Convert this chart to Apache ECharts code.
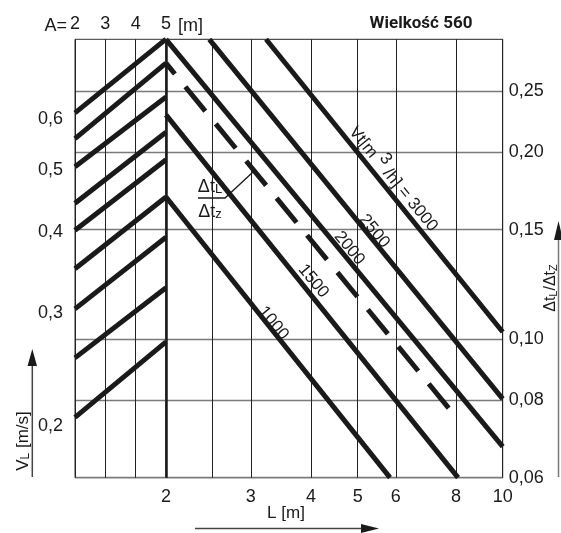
<!DOCTYPE html>
<html><head><meta charset="utf-8">
<script src="https://cdn.jsdelivr.net/npm/echarts@6/dist/echarts.min.js"></script>
<style>html,body{margin:0;padding:0;background:#fff}#c{width:561px;height:533px}</style>
</head><body><div id="c"></div>
<script>
// ---- axis ticks ----
const A_ticks = [2, 3, 4, 5];
const L_labels = [2, 3, 4, 5, 6, 8, 10];
const L_grid = [2, 2.5, 3, 4, 5, 6, 8, 10];
const dt_ticks = [0.06, 0.08, 0.10, 0.15, 0.20, 0.25];
const VL_ticks = [0.2, 0.3, 0.4, 0.5, 0.6];

// ---- left part: V_L against A (nine lines, from A=2 to A=5) ----
const leftA = [2, 5];
const leftStartV = [0.614, 0.560, 0.506, 0.444, 0.403, 0.351, 0.304, 0.255, 0.206];
const leftEndV   = [0.800, 0.734, 0.650, 0.573, 0.519, 0.454, 0.393, 0.328, 0.270];

// ---- right part: Δt_L/Δt_z against L for each flow Vt ----
const flowNames   = ['1000', '1500', '2000', '2500', '3000'];
const flowStartL  = [2, 2, 2, 2.46, 3.226];
const flowStartDt = [0.1693, 0.2293, 0.3032, 0.3032, 0.3032];
const flowEndL    = [5.835, 8.078, 10, 10, 10];
const flowEndDt   = [0.06, 0.06, 0.0673, 0.0803, 0.1028];
const flowLabelL  = [3.384, 4.096, 4.866, 5.483, 6.003];
const flowLabelDt = [0.1071, 0.1251, 0.1413, 0.1504, 0.1823];

// dashed line
const dashedL  = [2, 7.775];
const dashedDt = [0.2776, 0.0771];

const FONT = '"Liberation Sans", Arial, sans-serif';
const INK = '#1a1a1a';

const chart = echarts.init(document.getElementById('c'), null, {renderer: 'canvas'});

const series = [];
leftStartV.forEach((v, i) => {
  series.push({
    type: 'line', xAxisIndex: 0, yAxisIndex: 0, symbol: 'none', clip: false, silent: true,
    lineStyle: {color: INK, width: 5, cap: 'butt'},
    data: [[leftA[0], v], [leftA[1], leftEndV[i]]]
  });
});
flowNames.forEach((n, i) => {
  series.push({
    type: 'line', name: n, xAxisIndex: 1, yAxisIndex: 2, symbol: 'none', clip: false, silent: true,
    lineStyle: {color: INK, width: 5, cap: 'butt'},
    data: [[flowStartL[i], flowStartDt[i]], [flowEndL[i], flowEndDt[i]]]
  });
});
series.push({
  type: 'line', xAxisIndex: 1, yAxisIndex: 2, symbol: 'none', clip: false, silent: true,
  lineStyle: {color: INK, width: 5, cap: 'butt', type: [31.5, 16.5], dashOffset: 17.5},
  data: [[dashedL[0], dashedDt[0]], [dashedL[1], dashedDt[1]]],
  markLine: {
    silent: true, symbol: 'none', animation: false,
    label: {show: false},
    lineStyle: {color: INK, width: 2.5, type: 'solid'},
    data: [{xAxis: 2}]
  }
});

const dtMin = 0.05999, dtMax = 0.3032;
const axisLbl = {fontFamily: FONT, fontSize: 18, color: INK};

chart.setOption({
  animation: false,
  backgroundColor: '#fff',
  grid: [
    {left: 75, top: 39.3, width: 91, height: 438.4, show: true, borderColor: '#333', borderWidth: 1},
    {left: 166, top: 39.3, width: 336.7, height: 438.4, show: true, borderColor: '#222', borderWidth: 1}
  ],
  xAxis: [
    {type: 'value', gridIndex: 0, position: 'top', min: 2, max: 5,
     axisLine: {show: false}, axisTick: {show: false, customValues: A_ticks},
     axisLabel: Object.assign({customValues: A_ticks, margin: 6}, axisLbl),
     splitLine: {show: true, lineStyle: {color: '#222', width: 1}}},
    {type: 'log', gridIndex: 1, position: 'bottom', min: 1.9999, max: 10.0001, logBase: 10,
     axisLine: {show: false}, axisTick: {show: false, customValues: L_grid},
     axisLabel: Object.assign({customValues: L_labels, margin: 10, formatter: v => String(Math.round(v))}, axisLbl),
     splitLine: {show: true, lineStyle: {color: '#222', width: 1}}}
  ],
  yAxis: [
    {type: 'log', gridIndex: 0, position: 'left', min: 0.1659, max: 0.7996,
     axisLine: {show: false}, axisTick: {show: false},
     axisLabel: Object.assign({customValues: VL_ticks, margin: 12, formatter: v => v.toFixed(1).replace('.', ',')}, axisLbl),
     splitLine: {show: false}},
    {type: 'log', gridIndex: 0, position: 'right', min: dtMin, max: dtMax,
     axisLine: {show: false}, axisTick: {show: false, customValues: dt_ticks},
     axisLabel: {show: false},
     splitLine: {show: true, lineStyle: {color: '#7a7a7a', width: 1.3}}},
    {type: 'log', gridIndex: 1, position: 'right', min: dtMin, max: dtMax,
     axisLine: {show: false}, axisTick: {show: false, customValues: dt_ticks},
     axisLabel: Object.assign({customValues: dt_ticks, margin: 6, formatter: v => v.toFixed(2).replace('.', ',')}, axisLbl),
     splitLine: {show: true, lineStyle: {color: '#7a7a7a', width: 1.3}}}
  ],
  series: series
});

// ---- annotations ----
const ang = -0.885;
const g = [];
flowNames.forEach((n, i) => {
  const p = chart.convertToPixel({xAxisIndex: 1, yAxisIndex: 2}, [flowLabelL[i], flowLabelDt[i]]);
  const txt = i === 4 ? '{n|Vt[m }{s|3}{n| /h] = 3000}' : '{n|' + n + '}';
  g.push({type: 'text', x: p[0], y: p[1], rotation: ang, silent: true,
    style: {text: txt, align: 'center', verticalAlign: 'middle', fill: INK, font: '17px ' + FONT,
      rich: {n: {fontSize: 17, fontFamily: FONT, fill: INK, lineHeight: 24, verticalAlign: 'bottom'},
             s: {fontSize: 17, fontFamily: FONT, fill: INK, lineHeight: 24, verticalAlign: 'top', padding: [0, 0, 10, 0]}}}});
});
// title
g.push({type: 'text', x: 421, y: 24, silent: true,
  style: {text: 'Wielkość 560', align: 'center', verticalAlign: 'middle', fill: INK, font: 'bold 17px Roboto, ' + FONT}});
// A= and [m]
g.push({type: 'text', x: 67, y: 26, silent: true,
  style: {text: 'A=', align: 'right', verticalAlign: 'middle', fill: INK, font: '18px ' + FONT}});
g.push({type: 'text', x: 178, y: 26, silent: true,
  style: {text: '[m]', align: 'left', verticalAlign: 'middle', fill: INK, font: '18px ' + FONT}});
// fraction label with leader
g.push({type: 'text', x: 210, y: 186, silent: true,
  style: {text: '{a|Δt}{s|L}', align: 'center', verticalAlign: 'middle',
    rich: {a: {fontSize: 18, fontFamily: FONT, fill: INK, lineHeight: 20, verticalAlign: 'bottom'},
           s: {fontSize: 13, fontFamily: FONT, fill: INK, lineHeight: 20, verticalAlign: 'bottom'}}}});
g.push({type: 'text', x: 210, y: 211, silent: true,
  style: {text: '{a|Δt}{s|z}', align: 'center', verticalAlign: 'middle',
    rich: {a: {fontSize: 18, fontFamily: FONT, fill: INK, lineHeight: 20, verticalAlign: 'bottom'},
           s: {fontSize: 13, fontFamily: FONT, fill: INK, lineHeight: 20, verticalAlign: 'bottom'}}}});
g.push({type: 'polyline', silent: true, shape: {points: [[198, 198], [225, 198], [253, 172]]},
  style: {stroke: INK, lineWidth: 1.3, fill: null}});
// left axis title + arrow
g.push({type: 'text', x: 22, y: 441, rotation: Math.PI / 2, silent: true,
  style: {text: '{a|V}{s|L}{a| [m/s]}', align: 'center', verticalAlign: 'middle',
    rich: {a: {fontSize: 17, fontFamily: FONT, fill: INK, lineHeight: 20, verticalAlign: 'bottom'},
           s: {fontSize: 12, fontFamily: FONT, fill: INK, lineHeight: 20, verticalAlign: 'bottom'}}}});
g.push({type: 'line', silent: true, shape: {x1: 32.3, y1: 477, x2: 32.3, y2: 362}, style: {stroke: '#444', lineWidth: 1.5}});
g.push({type: 'polygon', silent: true, shape: {points: [[32.3, 349], [27.5, 366], [37, 366]]}, style: {fill: INK}});
// right axis title + arrow
g.push({type: 'text', x: 550, y: 288, rotation: Math.PI / 2, silent: true,
  style: {text: '{a|Δt}{s|L}{a|/Δt}{s|Z}', align: 'center', verticalAlign: 'middle',
    rich: {a: {fontSize: 16, fontFamily: FONT, fill: INK, lineHeight: 18, verticalAlign: 'bottom'},
           s: {fontSize: 11, fontFamily: FONT, fill: INK, lineHeight: 18, verticalAlign: 'bottom'}}}});
g.push({type: 'line', silent: true, shape: {x1: 558.5, y1: 477, x2: 558.5, y2: 236}, style: {stroke: '#777', lineWidth: 1.5}});
g.push({type: 'polygon', silent: true, shape: {points: [[558.5, 221], [554, 240], [563, 240]]}, style: {fill: INK}});
// bottom axis title + arrow
g.push({type: 'text', x: 286, y: 513, silent: true,
  style: {text: 'L [m]', align: 'center', verticalAlign: 'middle', fill: INK, font: '17px ' + FONT}});
g.push({type: 'line', silent: true, shape: {x1: 195, y1: 528.5, x2: 364, y2: 528.5}, style: {stroke: '#444', lineWidth: 1.5}});
g.push({type: 'polygon', silent: true, shape: {points: [[379, 528.5], [361, 524], [361, 533]]}, style: {fill: INK}});

chart.setOption({graphic: {elements: g}});
</script></body></html>
